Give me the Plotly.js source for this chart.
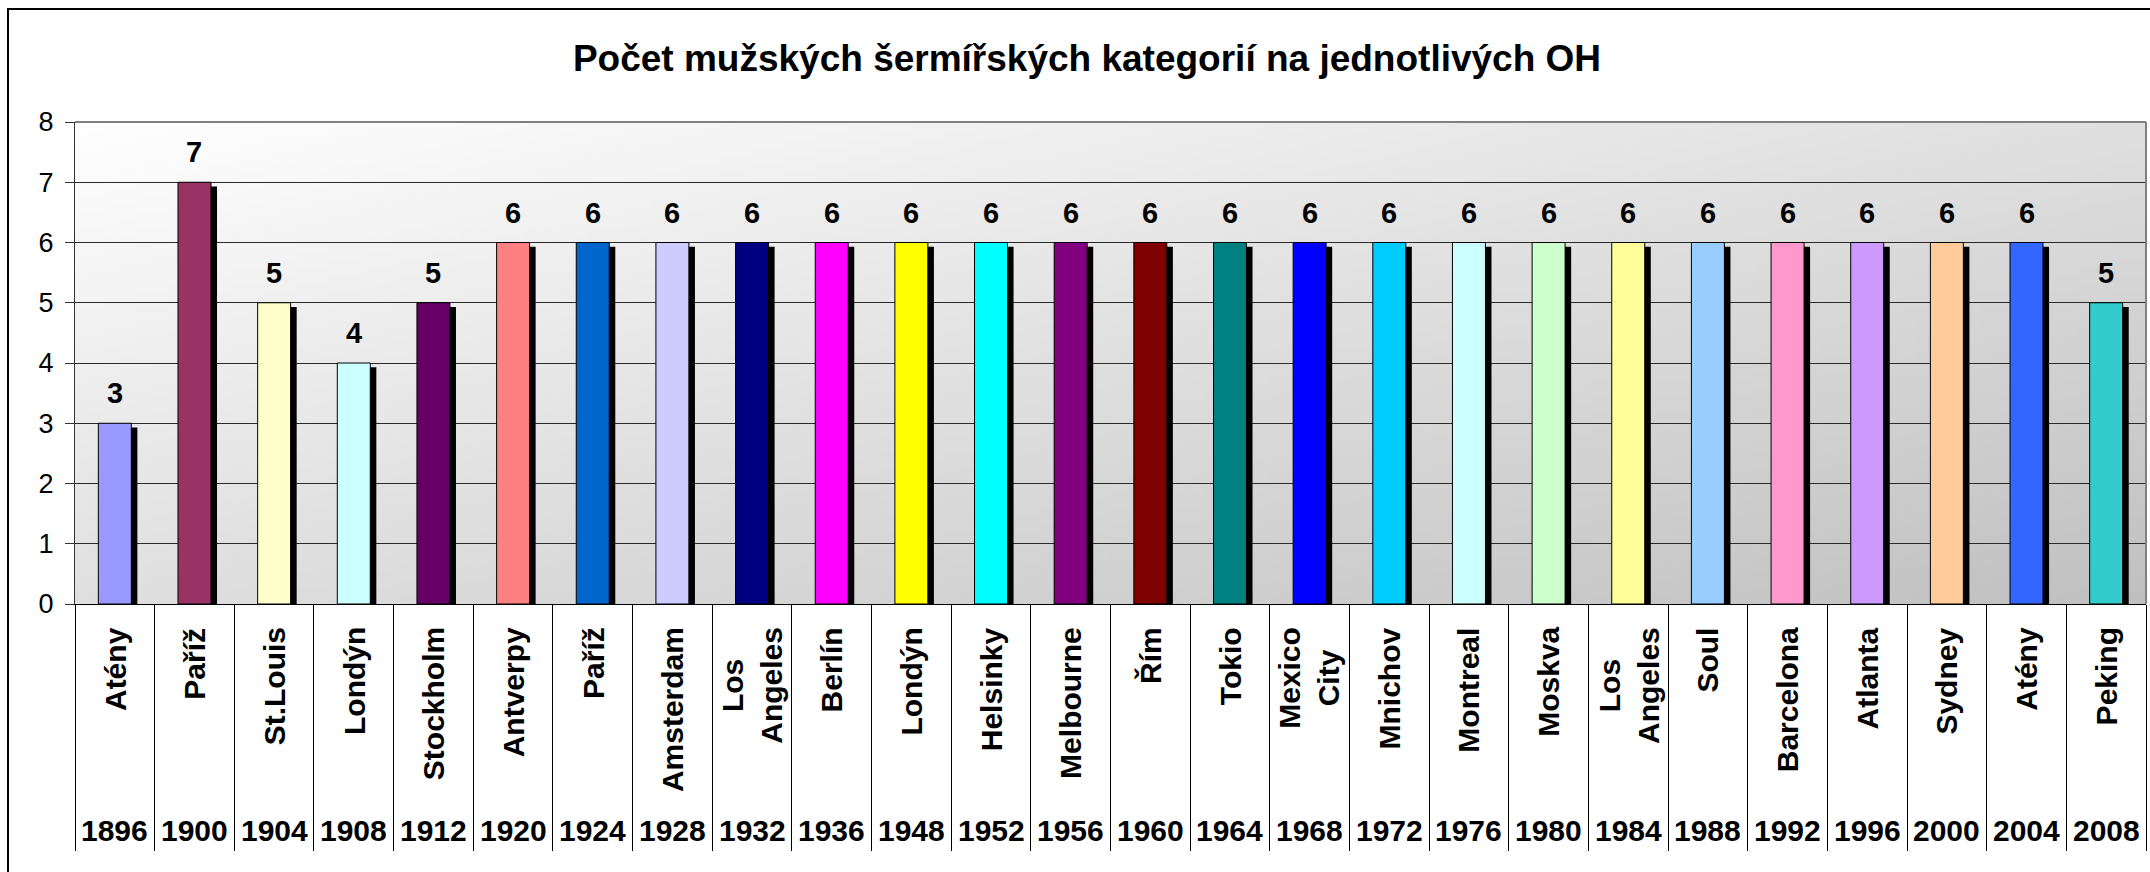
<!DOCTYPE html>
<html>
<head>
<meta charset="utf-8">
<script src="https://cdn.plot.ly/plotly-3.0.1.min.js"></script>
<style>
  html, body { margin: 0; padding: 0; background: #ffffff; }
  #chart { width: 2150px; height: 872px; }
</style>
</head>
<body>
<div id="chart"></div>
<script>
// ---- data ----
const years = ["1896","1900","1904","1908","1912","1920","1924","1928","1932","1936","1948","1952","1956","1960","1964","1968","1972","1976","1980","1984","1988","1992","1996","2000","2004","2008"];
const cities = ["Atény","Paříž","St.Louis","Londýn","Stockholm","Antverpy","Paříž","Amsterdam","Los<br>Angeles","Berlín","Londýn","Helsinky","Melbourne","Řím","Tokio","Mexico<br>City","Mnichov","Montreal","Moskva","Los<br>Angeles","Soul","Barcelona","Atlanta","Sydney","Atény","Peking"];
const counts = [3,7,5,4,5,6,6,6,6,6,6,6,6,6,6,6,6,6,6,6,6,6,6,6,6,5];
const barColors = ["#9999FF","#993366","#FFFFCC","#CCFFFF","#660066","#FF8080","#0066CC","#CCCCFF","#000080","#FF00FF","#FFFF00","#00FFFF","#800080","#800000","#008080","#0000FF","#00CCFF","#CCFFFF","#CCFFCC","#FFFF99","#99CCFF","#FF99CC","#CC99FF","#FFCC99","#3366FF","#33CCCC"];
const titleText = "Počet mužských šermířských kategorií na jednotlivých OH";

// ---- style ----
const FONT = "Liberation Sans, Arial, sans-serif";
const BAR_W = 0.414;
const SHADOW_DX = 0.076;

// gradient background image (white -> grey, diagonal)
const cv = document.createElement('canvas');
cv.width = 256; cv.height = 256;
const ctx = cv.getContext('2d');
const g = ctx.createLinearGradient(0, 0, 256, 256);
g.addColorStop(0, '#ffffff');
g.addColorStop(1, '#c0c0c0');
ctx.fillStyle = g;
ctx.fillRect(0, 0, 256, 256);
const bgURL = cv.toDataURL('image/png');

const shadow = {
  type: 'bar', x: years, y: counts, base: -0.07,
  width: BAR_W, offset: -BAR_W / 2 + SHADOW_DX,
  marker: { color: '#000000', line: { width: 0 } },
  hoverinfo: 'skip', showlegend: false
};
const bars = {
  type: 'bar', x: years, y: counts,
  width: BAR_W,
  marker: { color: barColors, line: { color: '#000000', width: 1 } },
  hoverinfo: 'skip', showlegend: false
};

const annotations = [];
years.forEach((yr, i) => {
  annotations.push({
    x: i, y: counts[i], xref: 'x', yref: 'y',
    text: '<b>' + counts[i] + '</b>', showarrow: false,
    xanchor: 'center', yanchor: 'bottom', yshift: 12,
    font: { family: FONT, size: 29, color: '#000000' }
  });
  annotations.push({
    x: i, y: -0.044, xref: 'x', yref: 'paper',
    text: '<b>' + cities[i] + '</b>', showarrow: false,
    textangle: -90, align: 'center',
    xanchor: 'center', yanchor: 'top',
    font: { family: FONT, size: 30, color: '#000000' }
  });
  annotations.push({
    x: i, y: -0.469, xref: 'x', yref: 'paper',
    text: '<b>' + yr + '</b>', showarrow: false,
    xanchor: 'center', yanchor: 'middle',
    font: { family: FONT, size: 30, color: '#000000' }
  });
});

const layout = {
  width: 2150, height: 872,
  margin: { l: 75, r: 4, t: 122, b: 268 },
  paper_bgcolor: '#ffffff',
  plot_bgcolor: 'rgba(0,0,0,0)',
  barmode: 'overlay',
  hovermode: false,
  title: {
    text: '<b>' + titleText + '</b>',
    font: { family: FONT, size: 37, color: '#000000' },
    xref: 'container', x: 1087 / 2150, xanchor: 'center',
    yref: 'container', y: 1 - 58 / 872, yanchor: 'middle'
  },
  xaxis: {
    type: 'category', categoryorder: 'array', categoryarray: years,
    range: [-0.5, years.length - 0.5], autorange: false,
    showticklabels: false,
    ticks: 'outside', tickson: 'boundaries', ticklen: 246,
    tickcolor: '#000000', tickwidth: 1,
    showline: true, linecolor: '#000000', linewidth: 1,
    showgrid: false, zeroline: false, fixedrange: true
  },
  yaxis: {
    range: [0, 8], dtick: 1, tick0: 0,
    ticks: 'outside', ticklen: 9, tickcolor: '#333333', tickwidth: 1,
    showline: true, linecolor: '#333333', linewidth: 1,
    showgrid: true, gridcolor: '#2a2a2a', gridwidth: 1,
    zeroline: false, fixedrange: true,
    tickfont: { family: FONT, size: 27, color: '#000000' },
    ticklabelstandoff: 6
  },
  images: [{
    source: bgURL, xref: 'paper', yref: 'paper',
    x: 0, y: 1, sizex: 1, sizey: 1, sizing: 'stretch',
    xanchor: 'left', yanchor: 'top', layer: 'below'
  }],
  shapes: [
    { type: 'line', xref: 'paper', yref: 'paper', x0: 0, x1: 1, y0: 1, y1: 1,
      line: { color: '#808080', width: 2 }, layer: 'above' },
    { type: 'line', xref: 'paper', yref: 'paper', x0: 1, x1: 1, y0: 0, y1: 1,
      line: { color: '#808080', width: 2 }, layer: 'above' },
    { type: 'rect', xref: 'paper', yref: 'paper',
      x0: (8 - 75) / 2071, x1: 1.2, y0: -0.7, y1: (604 - 9) / 482,
      line: { color: '#000000', width: 2 }, fillcolor: 'rgba(0,0,0,0)', layer: 'above' }
  ],
  annotations: annotations
};

Plotly.newPlot('chart', [shadow, bars], layout, { displayModeBar: false, staticPlot: true });
</script>
</body>
</html>
